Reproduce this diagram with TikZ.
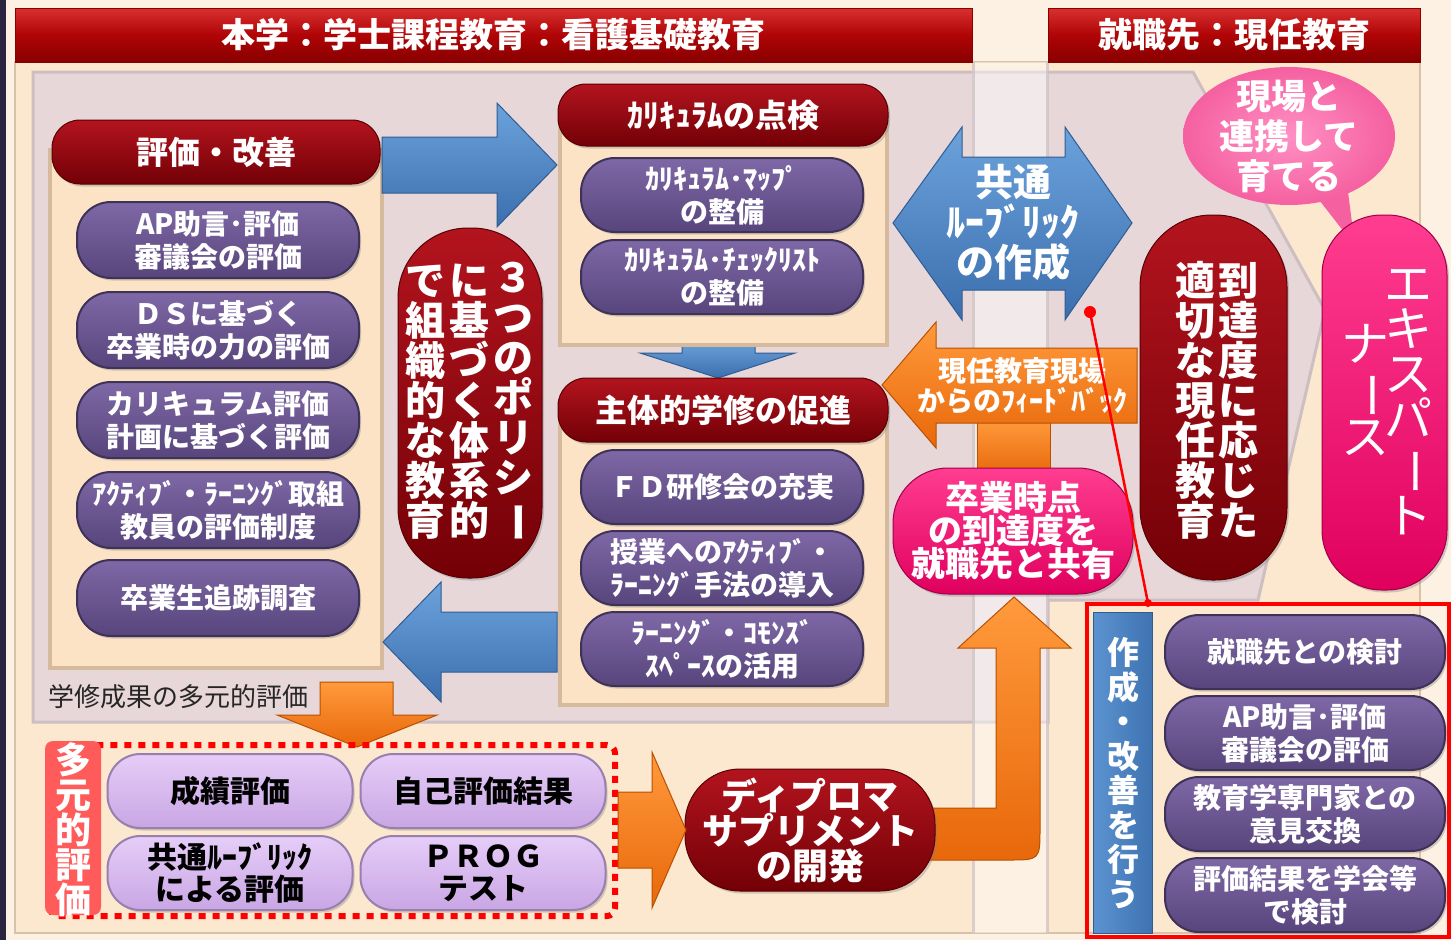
\documentclass[tikz,border=0pt]{standalone}
\usepackage{fontspec}
\newfontfamily\jp{Noto Sans CJK JP}
\usetikzlibrary{shapes.misc,calc,shadows}
\newcommand\fs[2]{\fontsize{#1}{#2}\selectfont}
\newcommand\vbar{\rotatebox[origin=c]{-90}{ー}}
\definecolor{bgcream}{HTML}{FDF1E3}
\definecolor{frameBeige}{HTML}{FCE7CF}
\definecolor{frameEdge}{HTML}{D8C2AA}
\definecolor{greyP}{HTML}{E7D7D9}
\definecolor{greyEdge}{HTML}{CDBEC1}
\definecolor{beige}{HTML}{FCE3C5}
\definecolor{beigeEdge}{HTML}{D5BB9C}
\definecolor{hdrTop}{HTML}{D83030}
\definecolor{hdrRed}{HTML}{B00406}
\definecolor{hdrBot}{HTML}{880000}
\definecolor{rTop}{HTML}{B3141E}
\definecolor{rBot}{HTML}{730006}
\definecolor{rEdge}{HTML}{5A0004}
\definecolor{pTop}{HTML}{7E68A6}
\definecolor{pBot}{HTML}{58457C}
\definecolor{pEdge}{HTML}{3F3259}
\definecolor{lpTop}{HTML}{E6CDF8}
\definecolor{lpBot}{HTML}{C9A6E4}
\definecolor{lpEdge}{HTML}{9880AE}
\definecolor{bTop}{HTML}{6CA3DC}
\definecolor{bBot}{HTML}{3B6EAD}
\definecolor{bEdge}{HTML}{2F5C93}
\definecolor{oTop}{HTML}{FF9A3C}
\definecolor{oBot}{HTML}{E8680A}
\definecolor{oEdge}{HTML}{B85000}
\definecolor{hotTop}{HTML}{FF3D90}
\definecolor{hotBot}{HTML}{E0005E}
\definecolor{hotEdge}{HTML}{A00045}
\definecolor{bubble}{HTML}{F560A0}
\definecolor{bubbleTop}{HTML}{FF90C4}
\definecolor{salmon}{HTML}{FF5B5B}
\definecolor{navy}{HTML}{2B2440}
\definecolor{vbTop}{HTML}{5B93D0}
\definecolor{vbBot}{HTML}{3F73B2}
\tikzset{
  shad/.style={drop shadow={shadow xshift=2pt, shadow yshift=-2.5pt, opacity=.35}},
  hdrbar/.style={rectangle, inner sep=0pt, top color=hdrTop, bottom color=hdrBot, middle color=hdrRed, draw=hdrBot, line width=1pt, text=white, font=\jp\bfseries\fs{34}{36}},
  redhdr/.style={shad, rectangle, rounded corners=28pt, inner sep=0pt, top color=rTop, bottom color=rBot, draw=rEdge, line width=1pt, text=white, font=\jp\bfseries\fs{32}{36}},
  ppill/.style={shad, rectangle, rounded corners=34pt, inner sep=0pt, minimum width=282pt, minimum height=76pt, top color=pTop, bottom color=pBot, draw=pEdge, line width=2pt, text=white, align=center, font=\jp\bfseries\fs{28}{33}},
  lpill/.style={shad, rectangle, rounded corners=33pt, inner sep=0pt, minimum width=245pt, minimum height=74pt, top color=lpTop, bottom color=lpBot, draw=lpEdge, line width=2pt, text=black, align=center, font=\jp\bfseries\fs{30}{32}},
  panel/.style={fill=beige, draw=beigeEdge, line width=4pt},
  bluearrow/.style={top color=bTop, bottom color=bBot, draw=bEdge, line width=1pt},
  orangearrow/.style={top color=oTop, bottom color=oBot, draw=oEdge, line width=1pt},
  redpillv/.style={shad, top color=rTop, bottom color=rBot, draw=rEdge, line width=1pt},
  redpill/.style={shad, rectangle, inner sep=0pt, top color=rTop, bottom color=rBot, draw=rEdge, line width=1pt, text=white, align=center},
  hotpill/.style={shad, rectangle, inner sep=0pt, top color=hotTop, bottom color=hotBot, draw=hotEdge, line width=1pt, text=white, align=center},
  vtext/.style={text=white, align=center, inner sep=0pt},
}
\begin{document}
\begin{tikzpicture}[x=1pt,y=-1pt]
\useasboundingbox (0,0) rectangle (1451,940);
% background
\fill[bgcream] (0,0) rectangle (1451,940);
\fill[navy] (0,0) rectangle (6,940);
\fill[frameBeige] (15,62) rectangle (1420,933);
\draw[frameEdge,line width=2pt] (15,62) rectangle (1420,933);
\path[fill=greyP, draw=greyEdge, line width=3pt] (33,72) -- (1193,72) -- (1325,310) -- (1258,600) -- (1048,600) -- (1048,722) -- (33,722) -- cycle;
\fill[white,opacity=.45] (972,62) rectangle (1048,933);
\draw[greyEdge,line width=3pt,opacity=.7] (973,62) -- (973,933) (1047,62) -- (1047,933);
% headers
\node[hdrbar, minimum width=957pt, minimum height=54pt] (hdrA) at (493.5,35) {本学：学士課程教育：看護基礎教育};
\node[hdrbar, minimum width=372pt, minimum height=54pt] (hdrB) at (1234,35) {就職先：現任教育};
% left panel
\draw[panel] (50,150) rectangle (382,668);
\node[redhdr, minimum width=328pt, minimum height=64pt] (evalhdr) at (216,152) {評価・改善};
\node[ppill] (e1) at (218,240) {AP助言･評価\\審議会の評価};
\node[ppill] (e2) at (218,330) {ＤＳに基づく\\卒業時の力の評価};
\node[ppill] (e3) at (218,420) {カリキュラム評価\\計画に基づく評価};
\node[ppill] (e4) at (218,510) {ｱｸﾃｨﾌﾞ・ﾗｰﾆﾝｸﾞ取組\\教員の評価制度};
\node[ppill] (e5) at (218,598) {卒業生追跡調査};
% top blue arrow
\path[bluearrow] (382,137) -- (497,137) -- (497,103) -- (557,165) -- (497,227) -- (497,193) -- (382,193) -- cycle;
% policy pill
\path[redpillv, rounded corners=70pt] (398,228) rectangle (542,578);
\node[vtext, font=\jp\bfseries\fs{40}{40}] (pol1) at (513,402) {３\\つ\\の\\ポ\\リ\\シ\\\vbar};
\node[vtext, font=\jp\bfseries\fs{40}{40}] (pol2) at (469,402) {に\\基\\づ\\く\\体\\系\\的};
\node[vtext, font=\jp\bfseries\fs{40}{40}] (pol3) at (425,402) {で\\組\\織\\的\\な\\教\\育};
% curriculum panel
\path[bluearrow] (682,340) -- (755,340) -- (755,353) -- (795,353) -- (718,378) -- (640,353) -- (682,353) -- cycle;
\draw[panel] (560,115) rectangle (887,345);
\node[redhdr, minimum width=330pt, minimum height=62pt] (curhdr) at (723,115) {ｶﾘｷｭﾗﾑの点検};
\node[ppill, minimum height=74pt] (c1) at (722,195) {ｶﾘｷｭﾗﾑ･ﾏｯﾌﾟ\\の整備};
\node[ppill, minimum height=74pt] (c2) at (722,277) {ｶﾘｷｭﾗﾑ･ﾁｪｯｸﾘｽﾄ\\の整備};
% active learning panel
\draw[panel] (560,410) rectangle (887,705);
\node[redhdr, minimum width=330pt, minimum height=64pt] (acthdr) at (723,410) {主体的学修の促進};
\node[ppill, minimum height=74pt] (a1) at (722,487) {ＦＤ研修会の充実};
\node[ppill, minimum height=74pt] (a2) at (722,568) {授業へのｱｸﾃｨﾌﾞ・\\ﾗｰﾆﾝｸﾞ手法の導入};
\node[ppill, minimum height=74pt] (a3) at (722,649) {ﾗｰﾆﾝｸﾞ・ｺﾓﾝｽﾞ\\ｽﾍﾟｰｽの活用};
% bottom-left blue arrow
\path[bluearrow] (557,612) -- (441,612) -- (441,582) -- (383,642) -- (441,702) -- (441,672) -- (557,672) -- cycle;
% rubric double arrow
\path[bluearrow] (893,223) -- (962,127) -- (962,157) -- (1065,157) -- (1065,127) -- (1132,223) -- (1065,320) -- (1065,290) -- (962,290) -- (962,320) -- cycle;
\node[text=white, align=center, font=\jp\bfseries\fs{38}{40}] (rubric) at (1013,222) {共通\\ﾙｰﾌﾞﾘｯｸ\\の作成};
% feedback arrow
\path[orangearrow] (977,420) rectangle (1050,475);
\path[orangearrow] (1137,348) -- (936,348) -- (936,322) -- (882,385) -- (936,448) -- (936,423) -- (1137,423) -- cycle;
\node[text=white, align=center, font=\jp\bfseries\fs{28}{30}] (fb) at (1022,386) {現任教育現場\\からのﾌｨｰﾄﾞﾊﾞｯｸ};
\node[hotpill, minimum width=240pt, minimum height=126pt, rounded corners=55pt, font=\jp\bfseries\fs{34}{33}] (share) at (1013,531) {卒業時点\\の到達度を\\就職先と共有};
% up arrow from diploma
\path[orangearrow] (930,808) -- (996,808) -- (996,648) -- (958,648) -- (1014,597) -- (1071,648) -- (1040,648) -- (1040,828) .. controls (1040,860) and (1040,860) .. (1008,860) -- (930,860) -- cycle;
\node[redpill, minimum width=250pt, minimum height=122pt, rounded corners=55pt, font=\jp\bfseries\fs{36}{35}] (dip) at (810,830) {ディプロマ\\サプリメント\\の開発};
% right red pill
\path[redpillv, rounded corners=72pt] (1140,215) rectangle (1287,580);
\node[vtext, font=\jp\bfseries\fs{40}{40}] (job1) at (1195,400) {適\\切\\な\\現\\任\\教\\育};
\node[vtext, font=\jp\bfseries\fs{40}{40}] (job2) at (1238,400) {到\\達\\度\\に\\応\\じ\\た};
% bubble
\fill[bubble] (1316,196) -- (1355,246) -- (1348,192) -- cycle;
\path[inner color=bubbleTop, outer color=bubble] (1289,136) ellipse [x radius=106, y radius=69];
\node[text=white, align=center, font=\jp\bfseries\fs{35}{40}] (bub) at (1289,136) {現場と\\連携して\\育てる};
% expert nurse
\path[shad, top color=hotTop, bottom color=hotBot, draw=hotEdge, line width=1pt, rounded corners=60pt] (1322,215) rectangle (1447,590);
\node[vtext, font=\jp\fs{48}{45}] (ex1) at (1408,402) {エ\\キ\\ス\\パ\\\vbar\\ト};
\node[vtext, font=\jp\fs{48}{45}] (ex2) at (1365,390) {ナ\\\vbar\\ス};
% red link and box
\coordinate (dotA) at (1090,312);
\coordinate (dotB) at (1148,603);
\draw[red, line width=2.5pt] (dotA) -- (dotB);
\fill[red] (dotA) circle (6pt);
\fill[red] (dotB) circle (4pt);
\draw[red, line width=3.5pt] (1087,604) rectangle (1449,937);
\path[left color=vbTop, right color=vbBot, draw=bEdge, line width=1pt] (1093,612) rectangle (1152,933);
\node[vtext, font=\jp\bfseries\fs{32}{34.5}] (act) at (1123,773) {作\\成\\・\\改\\善\\を\\行\\う};
\node[ppill, minimum width=280pt, minimum height=74pt] (r1) at (1305,652) {就職先との検討};
\node[ppill, minimum width=280pt, minimum height=74pt] (r2) at (1305,733) {AP助言･評価\\審議会の評価};
\node[ppill, minimum width=280pt, minimum height=74pt] (r3) at (1305,814) {教育学専門家との\\意見交換};
\node[ppill, minimum width=280pt, minimum height=74pt] (r4) at (1305,895) {評価結果を学会等\\で検討};
% bottom section
\node[text=black!85, font=\jp\fs{26}{28}, inner sep=0pt] (multi) at (178,697) {学修成果の多元的評価};
\path[orangearrow] (320,682) -- (393,682) -- (393,715) -- (437,715) -- (357,747) -- (277,715) -- (320,715) -- cycle;
\draw[red, line width=6pt, dash pattern=on 7pt off 7pt, rounded corners=8pt] (50,745) rectangle (615,916);
\node[fill=salmon, rounded corners=8pt, minimum width=56pt, minimum height=174pt, inner sep=0pt] (lbl) at (73,828) {};
\node[vtext, font=\jp\bfseries\fs{36}{35}] (lbltxt) at (73,830) {多\\元\\的\\評\\価};
\node[lpill] (b1) at (230,791) {成績評価};
\node[lpill] (b2) at (483,791) {自己評価結果};
\node[lpill] (b3) at (230,873) {共通ﾙｰﾌﾞﾘｯｸ\\による評価};
\node[lpill] (b4) at (483,873) {ＰＲＯＧ\\テスト};
\path[orangearrow] (618,792) -- (652,792) -- (652,752) -- (686,830) -- (652,908) -- (652,868) -- (618,868) -- cycle;
\end{tikzpicture}
\end{document}
